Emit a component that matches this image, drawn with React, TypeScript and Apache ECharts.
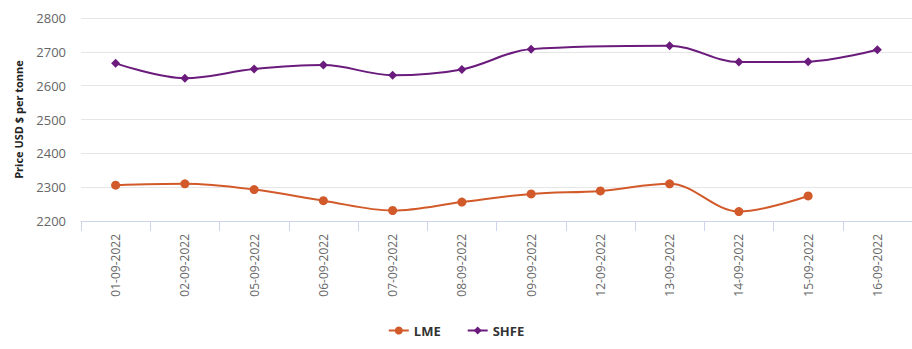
import React, { useEffect, useRef } from "react";
import * as echarts from "echarts";

const categories = [
  "01-09-2022", "02-09-2022", "05-09-2022", "06-09-2022", "07-09-2022", "08-09-2022",
  "09-09-2022", "12-09-2022", "13-09-2022", "14-09-2022", "15-09-2022", "16-09-2022",
];
const lmeValues: (number | null)[] = [2306, 2310, 2293, 2260, 2231, 2256, 2280, 2289, 2310, 2228, 2274, null];
const shfeValues: (number | null)[] = [2666, 2622, 2649, 2661, 2631, 2648, 2708, null, 2718, 2670, 2671, 2706];
const yTicks = { min: 2200, max: 2800, interval: 100 };
const yAxisTitle = "Price USD $ per tonne";

export default function App() {
  const ref = useRef<HTMLDivElement>(null);
  useEffect(() => {
    if (!ref.current) return;
    const chart = echarts.init(ref.current, undefined, { renderer: "svg" });
    chart.setOption({
      animation: false,
      textStyle: { fontFamily: "'Open Sans', sans-serif" },
      grid: { left: 81, right: 0, top: 18, bottom: 128, containLabel: false },
      legend: {
        bottom: 7,
        left: "center",
        itemGap: 26,
        itemWidth: 20,
        itemHeight: 10,
        textStyle: { fontSize: 13, fontWeight: "bold", color: "#333" },
        data: ["LME", "SHFE"],
      },
      xAxis: {
        type: "category",
        data: categories,
        boundaryGap: true,
        axisLine: { lineStyle: { color: "#ccd6eb" } },
        axisTick: { show: true, length: 10, alignWithLabel: false, lineStyle: { color: "#ccd6eb" } },
        axisLabel: { rotate: 90, fontSize: 12, color: "#666", margin: 13, interval: 0 },
        splitLine: { show: false },
      },
      yAxis: {
        type: "value",
        min: yTicks.min,
        max: yTicks.max,
        interval: yTicks.interval,
        name: yAxisTitle,
        nameLocation: "middle",
        nameGap: 57,
        nameTextStyle: { fontSize: 11, fontWeight: "bold", color: "#222" },
        axisLine: { show: false },
        axisTick: { show: false },
        axisLabel: { fontSize: 13, color: "#666", margin: 15, formatter: (v: number) => String(v) },
        splitLine: { lineStyle: { color: "#e6e6e6" } },
      },
      series: [
        {
          name: "LME",
          type: "line",
          data: lmeValues,
          smooth: 0.35,
          connectNulls: true,
          symbol: "circle",
          symbolSize: 9,
          color: "#d25a2a",
          lineStyle: { width: 2, color: "#d25a2a" },
          itemStyle: { color: "#d25a2a" },
        },
        {
          name: "SHFE",
          type: "line",
          data: shfeValues,
          smooth: 0.35,
          connectNulls: true,
          symbol: "diamond",
          symbolSize: 9,
          color: "#6a1b7c",
          lineStyle: { width: 2, color: "#6a1b7c" },
          itemStyle: { color: "#6a1b7c" },
        },
      ],
    });
    return () => chart.dispose();
  }, []);
  return <div ref={ref} style={{ width: 912, height: 349, position: "absolute", left: 0, top: 0 }} />;
}
